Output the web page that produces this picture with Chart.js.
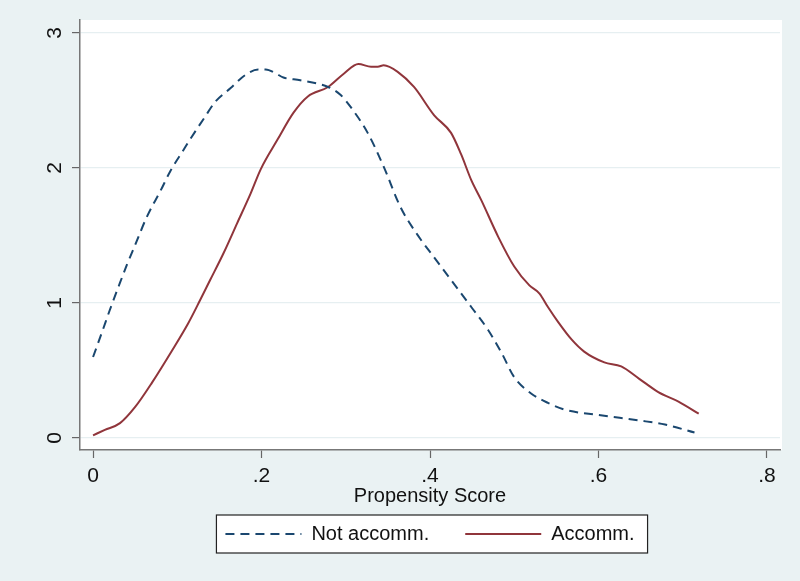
<!DOCTYPE html>
<html>
<head>
<meta charset="utf-8">
<script src="https://cdn.jsdelivr.net/npm/chart.js@4/dist/chart.umd.min.js"></script>
<style>
  body { margin: 0; background: #eaf2f3; }
  canvas { display: block; }
</style>
</head>
<body>
<canvas id="densityChart" width="800" height="581"></canvas>
<script>
// kernel density estimates
const notAccX = [0, .011, .020, .032, .040, .050, .064, .080, .092, .107, .115, .133, .145, .163, .181, .196, .205, .217, .226, .246, .279, .294, .306, .326, .345, .365, .389, .401, .425, .449, .469, .485, .500, .520, .540, .560, .600, .648, .679, .714];
const notAccY = [.60, .79, .95, 1.15, 1.28, 1.43, 1.64, 1.83, 1.98, 2.13, 2.21, 2.38, 2.49, 2.59, 2.69, 2.73, 2.73, 2.70, 2.67, 2.65, 2.60, 2.54, 2.45, 2.26, 2.01, 1.71, 1.47, 1.37, 1.17, .97, .80, .63, .45, .33, .26, .21, .17, .13, .10, .04];

const accX = [0, .014, .032, .050, .070, .094, .113, .127, .139, .155, .171, .187, .199, .219, .238, .255, .279, .298, .315, .330, .338, .345, .362, .381, .405, .425, .437, .449, .461, .481, .500, .518, .530, .540, .552, .568, .583, .607, .627, .648, .671, .695, .719];
const accY = [.02, .06, .11, .23, .41, .65, .85, 1.02, 1.17, 1.37, 1.59, 1.81, 1.99, 2.21, 2.41, 2.53, 2.60, 2.70, 2.77, 2.75, 2.75, 2.76, 2.71, 2.60, 2.39, 2.26, 2.10, 1.91, 1.76, 1.49, 1.27, 1.13, 1.07, .97, .86, .73, .64, .56, .53, .44, .34, .27, .18];

const xTicks = [0, .2, .4, .6, .8];
const xTickLabels = ['0', '.2', '.4', '.6', '.8'];
const yTicks = [0, 1, 2, 3];
const yTickLabels = ['0', '1', '2', '3'];

const seriesNames = ['Not accomm.', 'Accomm.'];

const toPoints = (xs, ys) => xs.map((x, i) => ({ x: x, y: ys[i] }));

// outer background, white plot region and the framed legend box
const backdrop = {
  id: 'backdrop',
  beforeDraw(chart) {
    const { ctx, chartArea } = chart;
    ctx.save();
    ctx.fillStyle = '#eaf2f3';
    ctx.fillRect(0, 0, chart.width, chart.height);
    ctx.fillStyle = '#ffffff';
    ctx.fillRect(chartArea.left, chartArea.top, chartArea.right - chartArea.left + 2, chartArea.bottom - chartArea.top);

    const boxes = chart.legend.legendHitBoxes;
    if (boxes && boxes.length) {
      const first = boxes[0];
      const last = boxes[boxes.length - 1];
      const cy = first.top + first.height / 2;
      const l = first.left - 9, r = last.left + last.width + 13;
      ctx.fillStyle = '#ffffff';
      ctx.fillRect(l, cy - 19, r - l, 38);
      ctx.strokeStyle = '#222222';
      ctx.lineWidth = 1.2;
      ctx.strokeRect(l, cy - 19, r - l, 38);
    }
    ctx.restore();
  }
};

const ctx = document.getElementById('densityChart').getContext('2d');
new Chart(ctx, {
  type: 'scatter',
  data: {
    datasets: [
      {
        label: seriesNames[0],
        data: toPoints(notAccX, notAccY),
        showLine: true,
        borderColor: '#1a476f',
        borderWidth: 2,
        borderDash: [9, 6],
        pointRadius: 0,
        cubicInterpolationMode: 'monotone'
      },
      {
        label: seriesNames[1],
        data: toPoints(accX, accY),
        showLine: true,
        borderColor: '#90353b',
        borderWidth: 2,
        pointRadius: 0,
        cubicInterpolationMode: 'monotone'
      }
    ]
  },
  options: {
    responsive: false,
    animation: false,
    layout: { padding: { top: 20, right: 20, left: 0, bottom: 27 } },
    font: { family: 'Liberation Sans, Arial, sans-serif', size: 20 },
    color: '#111111',
    scales: {
      x: {
        type: 'linear',
        min: -0.0155,
        max: 0.8155,
        afterBuildTicks: (scale) => { scale.ticks = xTicks.map(v => ({ value: v })); },
        afterFit: (scale) => { scale.height = 38; },
        ticks: {
          padding: 6,
          color: '#111111',
          font: { size: 21 },
          maxRotation: 0,
          callback: (v, i) => xTickLabels[i]
        },
        grid: { drawOnChartArea: false, drawTicks: true, tickLength: 8, tickColor: '#666666', tickWidth: 1.2 },
        border: { color: '#777777', width: 1.5 },
        title: { display: true, text: 'Propensity Score', color: '#111111', font: { size: 20 }, padding: { top: 0, bottom: -20 } }
      },
      y: {
        type: 'linear',
        min: -0.089,
        max: 3.096,
        afterBuildTicks: (scale) => { scale.ticks = yTicks.map(v => ({ value: v })); },
        afterFit: (scale) => { scale.width = 80; scale.paddingTop = 0; scale.paddingBottom = 0; },
        ticks: {
          padding: 11,
          color: '#111111',
          font: { size: 21 },
          minRotation: 90,
          maxRotation: 90,
          crossAlign: 'center',
          callback: (v, i) => yTickLabels[i]
        },
        grid: { color: '#e6eff1', lineWidth: 1.2, drawTicks: true, tickLength: 8, tickColor: '#666666', tickWidth: 1.2 },
        border: { color: '#777777', width: 1.5 }
      }
    },
    plugins: {
      tooltip: { enabled: false },
      legend: {
        position: 'bottom',
        fullSize: false,
        labels: {
          usePointStyle: true,
          pointStyle: 'line',
          pointStyleWidth: 76,
          padding: 36,
          color: '#111111',
          font: { size: 20 },
          // legend lines take the dataset's own dash and width
          generateLabels: (chart) => {
            const items = Chart.defaults.plugins.legend.labels.generateLabels(chart);
            items.forEach(item => {
              const ds = chart.data.datasets[item.datasetIndex];
              item.lineDash = ds.borderDash || [];
              item.lineWidth = ds.borderWidth;
              item.strokeStyle = ds.borderColor;
            });
            return items;
          }
        }
      }
    }
  },
  plugins: [backdrop]
});
</script>
</body>
</html>
